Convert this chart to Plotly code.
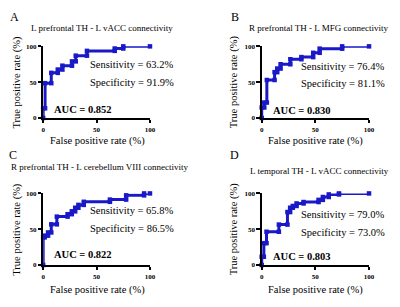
import plotly.graph_objects as go

# ---- data ----
fpr_A = [0, 0, 1.8, 1.8, 7.6, 7.6, 13.7, 13.7, 18, 18, 27, 27, 30.5, 30.5, 41, 41, 67, 67, 75, 75, 100]
tpr_A = [0, 13.5, 13.5, 48.6, 48.6, 63, 63, 67.6, 67.6, 73, 73, 79, 79, 87, 87, 93.7, 93.7, 97, 97, 100, 100]

fpr_B = [0, 0, 2.4, 2.4, 4.8, 4.8, 12, 12, 14.5, 14.5, 17.6, 17.6, 26.7, 26.7, 37, 37, 48, 48, 54, 54, 75, 75, 100]
tpr_B = [0, 14.6, 14.6, 21.5, 21.5, 53, 53, 64, 64, 69, 69, 75, 75, 82, 82, 85, 85, 91, 91, 96.8, 96.8, 100, 100]

fpr_C = [0, 0, 1.5, 1.5, 4.6, 4.6, 7.6, 7.6, 12.8, 12.8, 22.9, 22.9, 26.8, 26.8, 30, 30, 33, 33, 38, 38, 62.5, 62.5, 77.7, 77.7, 94.5, 94.5, 100]
tpr_C = [0, 38.7, 38.7, 41, 41, 45.5, 45.5, 56.8, 56.8, 67.6, 67.6, 71, 71, 75, 75, 80, 80, 84, 84, 88.3, 88.3, 91.4, 91.4, 97.3, 97.3, 100, 100]

fpr_D = [0, 0, 2, 2, 4.5, 4.5, 16, 16, 24, 24, 26.5, 26.5, 29, 29, 32.5, 32.5, 39, 39, 53, 53, 57, 57, 62.5, 62.5, 72, 72, 100]
tpr_D = [0, 11.5, 11.5, 30.5, 30.5, 46.5, 46.5, 56.5, 56.5, 74, 74, 80, 80, 82.5, 82.5, 86, 86, 88, 88, 91, 91, 95, 95, 98.6, 98.6, 100, 100]

panel_letters = ["A", "B", "C", "D"]
panel_titles = [
    "L prefrontal TH - L vACC connectivity",
    "R prefrontal TH - L MFG connectivity",
    "R prefrontal TH - L cerebellum VIII connectivity",
    "L temporal TH - L vACC connectivity",
]
sensitivity = ["63.2%", "76.4%", "65.8%", "79.0%"]
specificity = ["91.9%", "81.1%", "86.5%", "73.0%"]
auc = ["0.852", "0.830", "0.822", "0.803"]
tick_vals = [0, 50, 100]
tick_text = ["0", "50", "100"]

curves = [(fpr_A, tpr_A), (fpr_B, tpr_B), (fpr_C, tpr_C), (fpr_D, tpr_D)]

W, H = 400, 307
FONT = "Liberation Serif"
BLUE = "rgb(25,25,200)"


def px(x, y):
    return x / W, 1 - y / H


# layout geometry in pixels
x_dom_px = [(42, 151), (265, 374.5), (42, 151), (265, 374.5)]
y_dom_px = [(43.5, 117), (43.5, 117), (194.5, 268), (194.5, 268)]
letter_pos = [(13, 13), (238, 13), (11, 155), (237, 155)]
title_pos = [(102, 25), (323, 25), (100, 167), (324, 171)]
ytitle_pos = [(15, 80), (237, 80), (15, 231), (237, 231)]
xtitle_pos = [(97, 141), (320, 141), (97, 294), (320, 294)]
sens_xy = [(42, 75), (34.5, 72.5), (42, 75.5), (34.5, 71)]
spec_xy = [(42, 50), (34.5, 47.5), (42, 50.5), (34.5, 46)]
auc_xy = [(8, 12.5), (8.2, 11), (8, 14), (8.8, 12.5)]

fig = go.Figure()
annotations = []
layout = {}

for i, (fx, ty) in enumerate(curves):
    n = i + 1
    xa = "x" if n == 1 else f"x{n}"
    ya = "y" if n == 1 else f"y{n}"
    fig.add_trace(go.Scatter(
        x=fx, y=ty, xaxis=xa, yaxis=ya, mode="lines+markers",
        line=dict(color=BLUE, width=3),
        marker=dict(color=BLUE, size=4.5, symbol="square"),
        cliponaxis=False, showlegend=False, hoverinfo="skip",
    ))
    x0, x1 = x_dom_px[i]
    yt, yb = y_dom_px[i]
    axis_common = dict(
        range=[0, 100], showgrid=False, zeroline=False, showline=True,
        linecolor="black", linewidth=1.5, ticks="outside", ticklen=3.5,
        tickwidth=1.5, tickcolor="black", tickvals=tick_vals, ticktext=tick_text,
        tickfont=dict(family=FONT, size=7, color="black", weight="bold"),
        fixedrange=True,
    )
    layout[f"xaxis{'' if n == 1 else n}"] = dict(
        domain=[x0 / W, x1 / W], anchor=ya, **axis_common)
    layout[f"yaxis{'' if n == 1 else n}"] = dict(
        domain=[1 - yb / H, 1 - yt / H], anchor=xa, **axis_common)

    lx, ly = px(*letter_pos[i])
    annotations.append(dict(text=panel_letters[i], x=lx, y=ly, xref="paper", yref="paper",
                            showarrow=False, xanchor="center", yanchor="middle",
                            font=dict(family=FONT, size=12, color="black")))
    tx, tyy = px(*title_pos[i])
    annotations.append(dict(text=panel_titles[i], x=tx, y=tyy, xref="paper", yref="paper",
                            showarrow=False, xanchor="center", yanchor="middle",
                            font=dict(family=FONT, size=9, color="black")))
    yx, yy = px(*ytitle_pos[i])
    annotations.append(dict(text="True positive rate (%)", x=yx, y=yy, xref="paper", yref="paper",
                            showarrow=False, xanchor="center", yanchor="middle", textangle=-90,
                            font=dict(family=FONT, size=10.5, color="black")))
    xx, xy = px(*xtitle_pos[i])
    annotations.append(dict(text="False positive rate (%)", x=xx, y=xy, xref="paper", yref="paper",
                            showarrow=False, xanchor="center", yanchor="middle",
                            font=dict(family=FONT, size=10.5, color="black")))
    annotations.append(dict(text=f"Sensitivity = {sensitivity[i]}", x=sens_xy[i][0], y=sens_xy[i][1],
                            xref=xa, yref=ya, showarrow=False, xanchor="left", yanchor="middle",
                            font=dict(family=FONT, size=10.5, color="black")))
    annotations.append(dict(text=f"Specificity = {specificity[i]}", x=spec_xy[i][0], y=spec_xy[i][1],
                            xref=xa, yref=ya, showarrow=False, xanchor="left", yanchor="middle",
                            font=dict(family=FONT, size=10.5, color="black")))
    annotations.append(dict(text=f"<b>AUC = {auc[i]}</b>", x=auc_xy[i][0], y=auc_xy[i][1],
                            xref=xa, yref=ya, showarrow=False, xanchor="left", yanchor="middle",
                            font=dict(family=FONT, size=10.5, color="black")))

fig.update_layout(
    width=W, height=H, margin=dict(l=0, r=0, t=0, b=0),
    paper_bgcolor="white", plot_bgcolor="white",
    annotations=annotations, **layout,
)
fig.write_html(
    "out.html",
    config={"displayModeBar": False},
    post_script="document.body.style.margin='0';document.body.style.overflow='hidden';",
)
